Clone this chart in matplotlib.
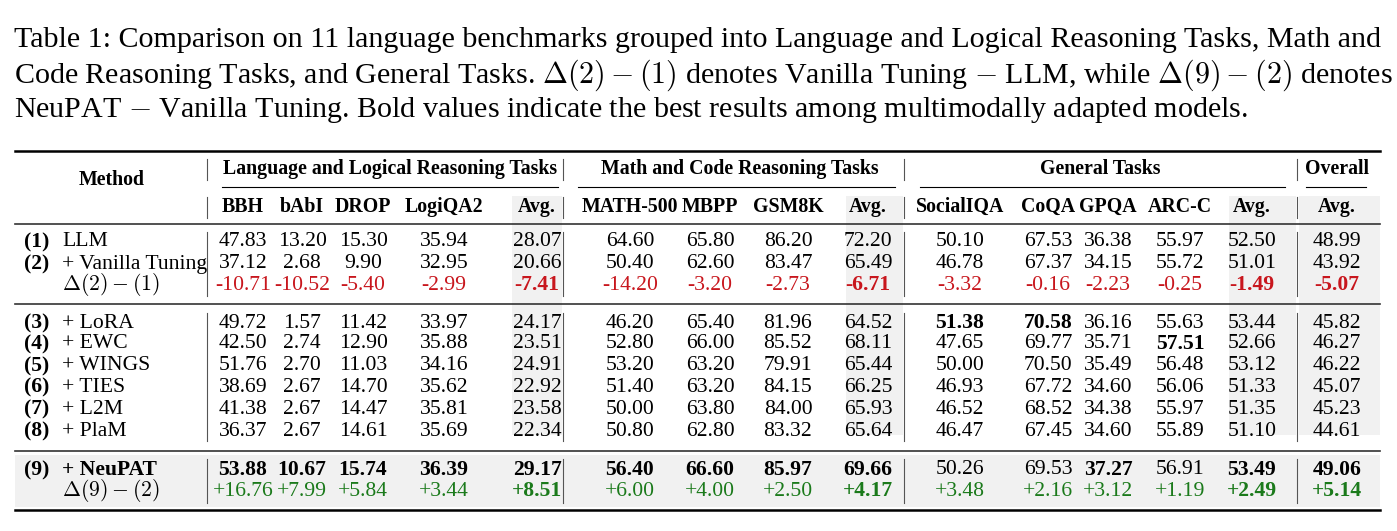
import matplotlib
matplotlib.use("Agg")
import matplotlib.pyplot as plt
from matplotlib.patches import Rectangle

plt.rcParams['font.family'] = ['Liberation Serif', 'DejaVu Serif']
plt.rcParams['mathtext.fontset'] = 'cm'

caption = [
    "Table 1: Comparison on 11 language benchmarks grouped into Language and Logical Reasoning Tasks, Math and",
    r"Code Reasoning Tasks, and General Tasks. $\Delta(2)-(1)$ denotes Vanilla Tuning $-$ LLM, while $\Delta(9)-(2)$ denotes",
    r"NeuPAT $-$ Vanilla Tuning. Bold values indicate the best results among multimodally adapted models.",
]
groups = ["Language and Logical Reasoning Tasks", "Math and Code Reasoning Tasks", "General Tasks", "Overall"]
columns = ["BBH", "bAbI", "DROP", "LogiQA2", "Avg.", "MATH-500", "MBPP", "GSM8K", "Avg.",
           "SocialIQA", "CoQA", "GPQA", "ARC-C", "Avg.", "Avg."]
row_ids = ["(1)", "(2)", "", "(3)", "(4)", "(5)", "(6)", "(7)", "(8)", "(9)", ""]
row_names = ["LLM", "+ Vanilla Tuning", r"$\mathbf{\Delta(2)}-(1)$", "+ LoRA", "+ EWC", "+ WINGS",
             "+ TIES", "+ L2M", "+ PlaM", "+ NeuPAT", r"$\mathbf{\Delta(9)}-(2)$"]
values = [
    ["47.83", "13.20", "15.30", "35.94", "28.07", "64.60", "65.80", "86.20", "72.20", "50.10", "67.53", "36.38", "55.97", "52.50", "48.99"],
    ["37.12", "2.68", "9.90", "32.95", "20.66", "50.40", "62.60", "83.47", "65.49", "46.78", "67.37", "34.15", "55.72", "51.01", "43.92"],
    ["-10.71", "-10.52", "-5.40", "-2.99", "-7.41", "-14.20", "-3.20", "-2.73", "-6.71", "-3.32", "-0.16", "-2.23", "-0.25", "-1.49", "-5.07"],
    ["49.72", "1.57", "11.42", "33.97", "24.17", "46.20", "65.40", "81.96", "64.52", "51.38", "70.58", "36.16", "55.63", "53.44", "45.82"],
    ["42.50", "2.74", "12.90", "35.88", "23.51", "52.80", "66.00", "85.52", "68.11", "47.65", "69.77", "35.71", "57.51", "52.66", "46.27"],
    ["51.76", "2.70", "11.03", "34.16", "24.91", "53.20", "63.20", "79.91", "65.44", "50.00", "70.50", "35.49", "56.48", "53.12", "46.22"],
    ["38.69", "2.67", "14.70", "35.62", "22.92", "51.40", "63.20", "84.15", "66.25", "46.93", "67.72", "34.60", "56.06", "51.33", "45.07"],
    ["41.38", "2.67", "14.47", "35.81", "23.58", "50.00", "63.80", "84.00", "65.93", "46.52", "68.52", "34.38", "55.97", "51.35", "45.23"],
    ["36.37", "2.67", "14.61", "35.69", "22.34", "50.80", "62.80", "83.32", "65.64", "46.47", "67.45", "34.60", "55.89", "51.10", "44.61"],
    ["53.88", "10.67", "15.74", "36.39", "29.17", "56.40", "66.60", "85.97", "69.66", "50.26", "69.53", "37.27", "56.91", "53.49", "49.06"],
    ["+16.76", "+7.99", "+5.84", "+3.44", "+8.51", "+6.00", "+4.00", "+2.50", "+4.17", "+3.48", "+2.16", "+3.12", "+1.19", "+2.49", "+5.14"],
]
bold_cells = {(3, 9), (3, 10), (4, 12)} | {(9, c) for c in range(15) if c not in (9, 10, 12)} \
    | {(r, c) for r in (2, 10) for c in (4, 8, 13, 14)}

W, H = 1397, 531
fig = plt.figure(figsize=(W / 100, H / 100), dpi=100)
ax = fig.add_axes([0, 0, 1, 1])
ax.set_xlim(0, W); ax.set_ylim(H, 0); ax.axis('off')

RED, GREEN, GRAY = '#c8161d', '#1b7a1b', '#f1f1f1'
FS = 14.3
FSN = 15.6

for i, line in enumerate(caption):
    ax.text(14, 40 + i * 35, line, fontsize=21.6, va='center', ha='left')

col_x = [243, 302, 363, 444, 537, 630, 710, 788, 868, 960, 1048, 1108, 1180, 1252, 1337]
row_y = [242, 264, 285, 323, 344, 366, 387, 409, 431, 470, 491]
vlines = [207, 563, 904, 1297]

for x0, x1 in [(512, 562), (846, 903), (1229, 1296), (1299, 1380)]:
    ax.add_patch(Rectangle((x0, 196), x1 - x0, 435 - 196, color=GRAY, lw=0, zorder=0))
ax.add_patch(Rectangle((15, 455), 1365, 52, color=GRAY, lw=0, zorder=0))

ax.plot([15, 1380], [151, 151], color='k', lw=1.8)
ax.plot([15, 1380], [224, 224], color='#333', lw=1.2)
ax.plot([15, 1380], [304, 304], color='#333', lw=1.2)
ax.plot([15, 1380], [451, 451], color='#333', lw=1.2)
ax.plot([15, 1380], [510, 510], color='k', lw=1.8)
for (x0, x1) in [(222, 558), (578, 895), (920, 1285), (1306, 1366)]:
    ax.plot([x0, x1], [187, 187], color='k', lw=0.8)
for x in vlines:
    ax.plot([x, x], [159, 180], color='#555', lw=0.8)
    ax.plot([x, x], [197, 218], color='#555', lw=0.8)
    for y0, y1 in [(232, 296), (313, 441), (459, 503)]:
        ax.plot([x, x], [y0, y1], color='#555', lw=0.8)

ax.text(112, 180, "Method", fontsize=FS, weight='bold', ha='center', va='center')
for g, x in zip(groups, [390, 740, 1100, 1337]):
    ax.text(x, 169, g, fontsize=FS, weight='bold', ha='center', va='center')
for c, x in zip(columns, col_x):
    ax.text(x, 207, c, fontsize=FS, weight='bold', ha='center', va='center')

for r, y in enumerate(row_y):
    ax.text(24, y, row_ids[r], fontsize=FSN, weight='bold', ha='left', va='center')
    ax.text(62, y, row_names[r], fontsize=FSN, ha='left', va='center',
            weight='bold' if r == 9 else 'normal')
    for c, x in enumerate(col_x):
        v = values[r][c]
        color = RED if r == 2 else (GREEN if r == 10 else 'k')
        ax.text(x, y, v, fontsize=FSN, ha='center', va='center', color=color,
                weight='bold' if (r, c) in bold_cells else 'normal')

fig.savefig("out.png", dpi=100)
